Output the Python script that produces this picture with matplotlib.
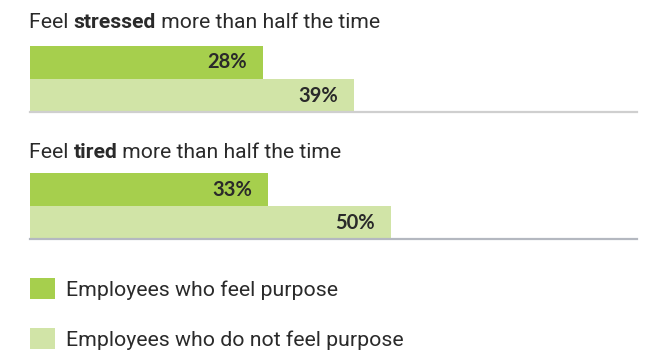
import matplotlib
matplotlib.use("Agg")
import matplotlib.pyplot as plt
from matplotlib.patches import Patch

# Data
metrics = ["stressed", "tired"]
purpose = [28, 33]
no_purpose = [39, 50]
series_labels = ["Employees who feel purpose", "Employees who do not feel purpose"]
axis_max = [73, 84]

DARK = "#a6cf4d"
LIGHT = "#d1e4a7"
TEXT = "#2a2a2a"

W, H = 650, 354
fig = plt.figure(figsize=(W / 100, H / 100), dpi=100)
plt.rcParams["font.family"] = ["Roboto", "DejaVu Sans"]


def px_axes(x0, y0, x1, y1):
    return fig.add_axes([x0 / W, 1 - y1 / H, (x1 - x0) / W, (y1 - y0) / H])


def mixed_title(x, y, parts, size):
    renderer = fig.canvas.get_renderer()
    cur = x / W
    for txt, weight in parts:
        t = fig.text(cur, 1 - y / H, txt, fontsize=size, fontweight=weight,
                     color=TEXT, va="center", ha="left")
        bb = t.get_window_extent(renderer=renderer)
        cur += bb.width / W


tops = [46, 173]
title_y = [23, 153]
base_colors = ["#cfcfcf", "#b4b8c0"]

for i, name in enumerate(metrics):
    mixed_title(29, title_y[i],
                [("Feel ", "normal"), (name, "bold"),
                 (" more than half the time", "normal")], 15.2)
    ax = px_axes(30, tops[i], 637, tops[i] + 66)
    vals = [no_purpose[i], purpose[i]]
    cols = [LIGHT, DARK]
    bars = ax.barh([0.5, 1.5], vals, height=1.0, color=cols, linewidth=0)
    ax.set_xlim(0, axis_max[i])
    ax.set_ylim(0, 2)
    for b, v in zip(bars, vals):
        ax.annotate(f"{v}%", (b.get_width(), b.get_y() + b.get_height() / 2),
                    xytext=(-16, 0), textcoords="offset pixels",
                    ha="right", va="center", fontsize=14.5, fontweight="bold",
                    color=TEXT, family=["Lato", "DejaVu Sans"])
    for s in ["top", "right", "left"]:
        ax.spines[s].set_visible(False)
    ax.spines["bottom"].set_color(base_colors[i])
    ax.spines["bottom"].set_linewidth(1.6)
    ax.set_xticks([])
    ax.set_yticks([])
    ax.patch.set_alpha(0)

# Legend
handles = [Patch(facecolor=DARK, edgecolor="none"),
           Patch(facecolor=LIGHT, edgecolor="none")]
fs = 15.3
fpx = fs * 100 / 72
leg = fig.legend(handles, series_labels, loc="upper left",
                 bbox_to_anchor=(30 / W, 1 - 278 / H), bbox_transform=fig.transFigure,
                 frameon=False, fontsize=fs, handlelength=25 / fpx, handleheight=25 / fpx,
                 handletextpad=11 / fpx, labelspacing=28 / fpx, borderpad=0,
                 borderaxespad=0, labelcolor=TEXT)

fig.savefig("out.png", dpi=100, facecolor="white")
